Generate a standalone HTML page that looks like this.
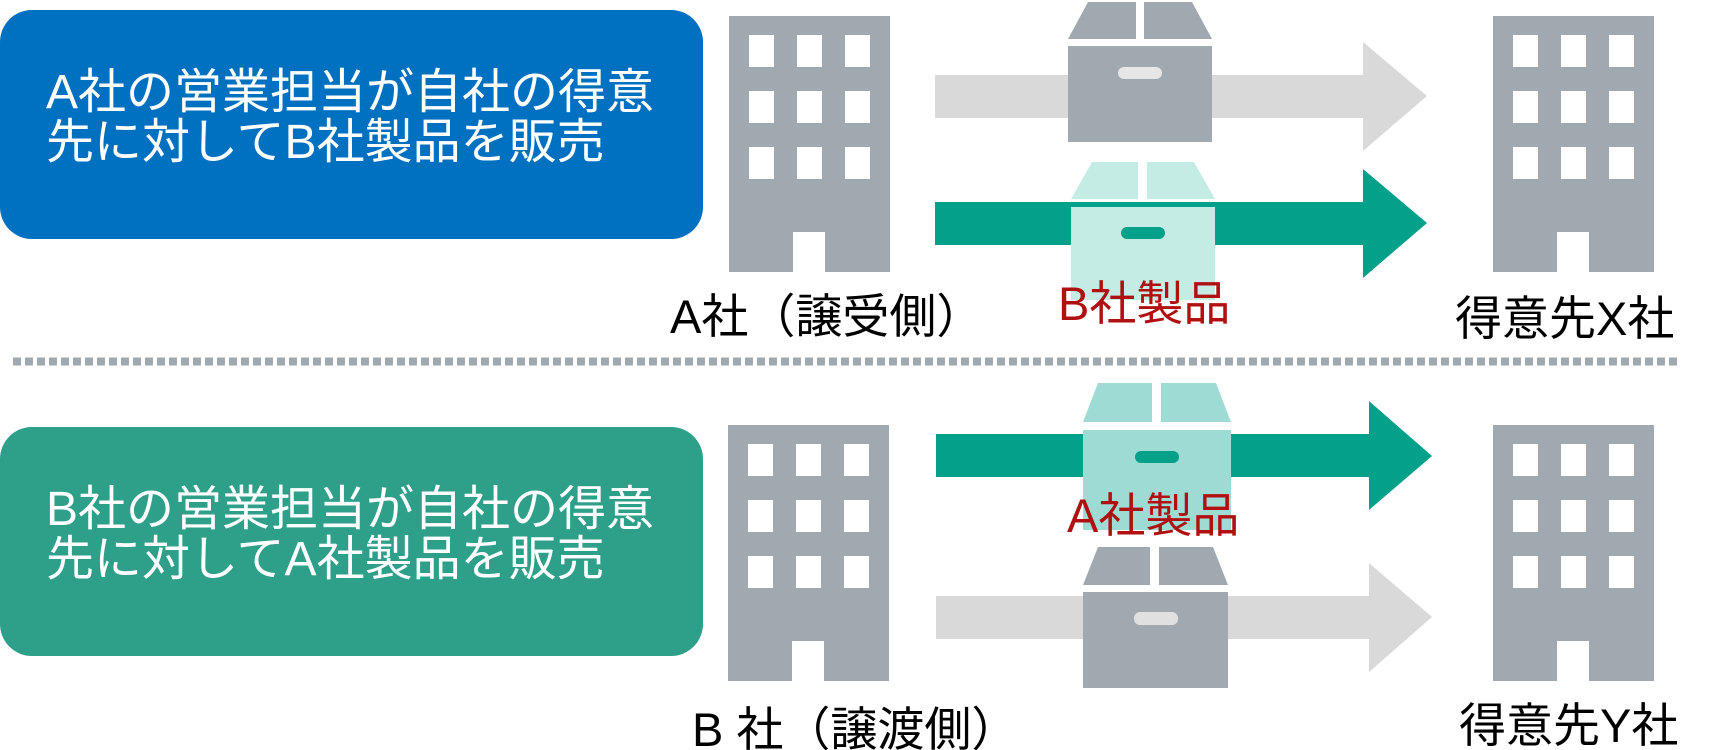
<!DOCTYPE html>
<html><head><meta charset="utf-8"><style>
html,body{margin:0;padding:0;background:#fff;}
svg{display:block;}
text{font-family:"Liberation Sans","Noto Sans CJK JP",sans-serif;}
</style></head><body>
<svg width="1717" height="750" viewBox="0 0 1717 750" xmlns="http://www.w3.org/2000/svg">
<defs>
<g id="bld">
<rect x="0" y="0" width="161" height="256" fill="#a0a8b0"/>
<g fill="#fff">
<rect x="20" y="19" width="25" height="32"/><rect x="68" y="19" width="25" height="32"/><rect x="116" y="19" width="25" height="32"/>
<rect x="20" y="75" width="25" height="32"/><rect x="68" y="75" width="25" height="32"/><rect x="116" y="75" width="25" height="32"/>
<rect x="20" y="131" width="25" height="32"/><rect x="68" y="131" width="25" height="32"/><rect x="116" y="131" width="25" height="32"/>
<rect x="64" y="216" width="32" height="40"/>
</g>
</g>
</defs>

<rect x="0" y="10" width="703" height="229" rx="32" fill="#0070c0"/>
<text x="46" y="108" font-size="48" fill="#fff">A社の営業担当が自社の得意</text>
<text x="46" y="158" font-size="48" fill="#fff">先に対してB社製品を販売</text>

<use href="#bld" x="729" y="16"/>
<use href="#bld" x="1493" y="16"/>

<polygon points="935,75 1363,75 1363,42 1427,96 1363,151 1363,118 935,118" fill="#d9d9d9"/>
<polygon points="1088,2 1136,2 1136,39 1068,39" fill="#a0a8b0"/>
<polygon points="1144,2 1192,2 1212,39 1144,39" fill="#a0a8b0"/>
<rect x="1068" y="46" width="144" height="96" fill="#a0a8b0"/>
<rect x="1118" y="67" width="44" height="12" rx="6" fill="#e6e6e6"/>

<polygon points="935,202 1363,202 1363,169 1427,223 1363,278 1363,245 935,245" fill="#03a08a"/>
<polygon points="1092,162 1138,162 1138,199 1071,199" fill="#c5ebe5"/>
<polygon points="1147,162 1194,162 1215,199 1147,199" fill="#c5ebe5"/>
<rect x="1071" y="207" width="144" height="93" fill="#c5ebe5"/>
<rect x="1121" y="227" width="44" height="12" rx="6" fill="#03a08a"/>

<text x="1058" y="320" font-size="47" fill="#b01010">B社製品</text>
<text x="670" y="333" font-size="47" fill="#000">A社（譲受側）</text>
<text x="1455" y="335" font-size="47" fill="#000">得意先X社</text>

<line x1="13" y1="361.5" x2="1680" y2="361.5" stroke="#a0a8b0" stroke-width="8" stroke-dasharray="8,4"/>

<rect x="0" y="427" width="703" height="229" rx="32" fill="#2ea08a"/>
<text x="46" y="525" font-size="48" fill="#fff">B社の営業担当が自社の得意</text>
<text x="46" y="575" font-size="48" fill="#fff">先に対してA社製品を販売</text>

<use href="#bld" x="728" y="425"/>
<use href="#bld" x="1493" y="425"/>

<polygon points="936,434 1369,434 1369,401 1432,456 1369,510 1369,477 936,477" fill="#03a08a"/>
<polygon points="1098,383 1152,383 1152,422 1083,422" fill="#9ddbd4"/>
<polygon points="1161,383 1216,383 1231,422 1161,422" fill="#9ddbd4"/>
<rect x="1083" y="430" width="148" height="100" fill="#9ddbd4"/>
<rect x="1135" y="451" width="44" height="12" rx="6" fill="#03a08a"/>
<text x="1067" y="532" font-size="47" fill="#b01010">A社製品</text>

<polygon points="936,596 1369,596 1369,563 1432,617 1369,672 1369,639 936,639" fill="#d9d9d9"/>
<polygon points="1098,547 1150,547 1150,585 1083,585" fill="#a0a8b0"/>
<polygon points="1159,547 1213,547 1228,585 1159,585" fill="#a0a8b0"/>
<rect x="1083" y="592" width="145" height="96" fill="#a0a8b0"/>
<rect x="1134" y="612" width="44" height="13" rx="6" fill="#e0e0e0"/>

<text x="692" y="746" font-size="47" fill="#000">B 社（譲渡側）</text>
<text x="1459" y="742" font-size="47" fill="#000">得意先Y社</text>
</svg>
</body></html>
